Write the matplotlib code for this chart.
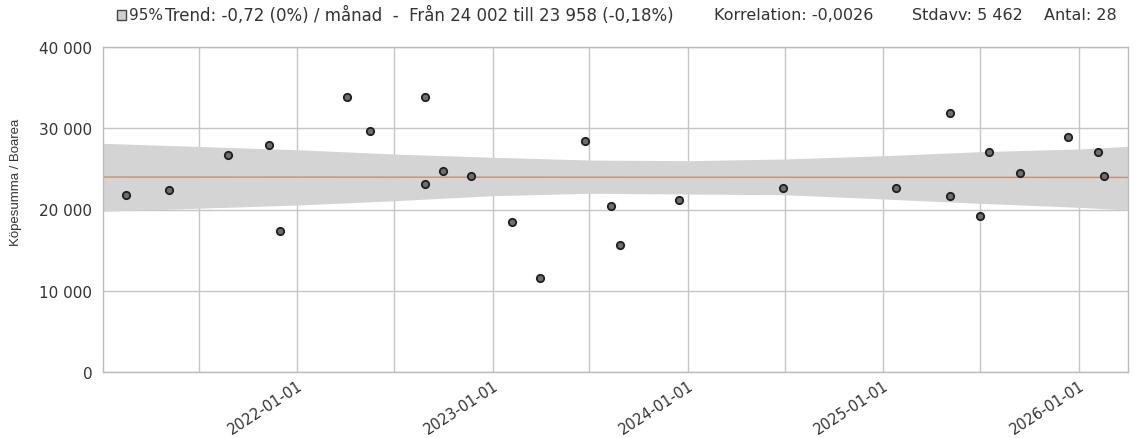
import matplotlib
matplotlib.use("Agg")
import matplotlib.pyplot as plt
import matplotlib.dates as mdates
import matplotlib.patches as patches
from matplotlib.ticker import FuncFormatter, MultipleLocator
import pandas as pd

plt.rcParams['font.family'] = ['DejaVu Sans']

# Data
dates = ["2021-02-15", "2021-05-05", "2021-08-24", "2021-11-08", "2021-11-29",
         "2022-04-04", "2022-05-16", "2022-08-28", "2022-08-28", "2022-10-01",
         "2022-11-21", "2023-02-07", "2023-03-30", "2023-06-23", "2023-08-11",
         "2023-08-27", "2023-12-15", "2024-06-28", "2025-01-25", "2025-05-06",
         "2025-05-06", "2025-07-01", "2025-07-18", "2025-09-14", "2025-12-13",
         "2026-02-06", "2026-02-18"]
values = [21800, 22400, 26700, 27900, 17400,
          33900, 29700, 33900, 23100, 24700,
          24100, 18400, 11600, 28500, 20400,
          15600, 21200, 22650, 22650, 31950,
          21650, 19250, 27100, 24450, 28900,
          27100, 24100]

# 95% band, read at the grid lines
band_dates = ["2021-01-03", "2022-01-01", "2022-07-01", "2023-01-01", "2023-07-01",
              "2024-01-01", "2024-07-01", "2025-01-01", "2025-07-01", "2026-01-01",
              "2026-04-04"]
band_upper = [28160, 27370, 26840, 26440, 26100, 26020, 26230, 26630, 27130, 27460, 27790]
band_lower = [19780, 20550, 21080, 21700, 22000, 21910, 21820, 21300, 20760, 20270, 19940]

# trend line, start and end of the period
trend_dates = ["2021-01-03", "2026-04-04"]
trend_values = [24002, 23958]

header_trend = "Trend: -0,72 (0%) / månad  -  Från 24 002 till 23 958 (-0,18%)"
header_corr = "Korrelation: -0,0026"
header_std = "Stdavv: 5 462"
header_n = "Antal: 28"
legend_label = "95%"
y_label = "Köpesumma / Boarea"

W, H = 1136, 439
fig = plt.figure(figsize=(W / 100, H / 100), dpi=100)
ax = fig.add_axes([103.3 / W, 1 - 372.7 / H, (1128.3 - 103.3) / W, (372.7 - 48.3) / H])

bd = pd.to_datetime(band_dates)
ax.fill_between(bd, band_lower, band_upper, color='#d4d4d4', lw=0, zorder=1)
ax.plot(pd.to_datetime(trend_dates), trend_values, color='#c8906a', lw=1, zorder=2)
ax.scatter(pd.to_datetime(dates), values, s=28, facecolor='#6e6e6e',
           edgecolor='#1e1e1e', linewidths=1.3, zorder=3)

ax.set_xlim(pd.Timestamp(trend_dates[0]), pd.Timestamp(trend_dates[-1]))
ax.set_ylim(0, 40000)

ax.yaxis.set_major_locator(MultipleLocator(10000))
ax.yaxis.set_major_formatter(FuncFormatter(lambda v, p: f"{int(v):,}".replace(",", " ")))
ax.xaxis.set_major_locator(mdates.YearLocator(month=1, day=1))
ax.xaxis.set_major_formatter(mdates.DateFormatter("%Y-%m-%d"))
ax.xaxis.set_minor_locator(mdates.MonthLocator(bymonth=[7], bymonthday=1))

ax.grid(True, which='both', axis='x', color='#c6c6c6', lw=1, zorder=0)
ax.grid(True, which='major', axis='y', color='#c6c6c6', lw=1, zorder=0)
ax.set_axisbelow(True)
for s in ax.spines.values():
    s.set_color('#bcbcbc')
    s.set_linewidth(1)

ax.tick_params(axis='both', which='both', length=0, colors='#333333')
ax.tick_params(axis='y', labelsize=11, pad=8)
ax.tick_params(axis='x', labelsize=10.5, pad=4)
for lbl in ax.get_xticklabels():
    lbl.set_rotation(33)
    lbl.set_ha('right')
    lbl.set_rotation_mode('anchor')

ax.set_ylabel(y_label, fontsize=9.5, color='#333333', family='Liberation Sans')
ax.yaxis.set_label_coords((22 - 103.3) / 1025, 0.588)

# header row
ty = 1 - 16 / H
fig.patches.append(patches.Rectangle((117 / W, 1 - 21 / H), 9 / W, 10 / H,
                                     transform=fig.transFigure, facecolor='#d0d0d0',
                                     edgecolor='#444444', lw=1))
fig.text(129 / W, ty, legend_label, fontsize=11, color='#333333', va='center')
fig.text(165 / W, ty, header_trend, fontsize=12, color='#333333', va='center')
fig.text(714 / W, ty, header_corr, fontsize=11.5, color='#333333', va='center')
fig.text(912 / W, ty, header_std, fontsize=11.5, color='#333333', va='center')
fig.text(1044 / W, ty, header_n, fontsize=11.5, color='#333333', va='center')

fig.savefig("out.png", dpi=100)
